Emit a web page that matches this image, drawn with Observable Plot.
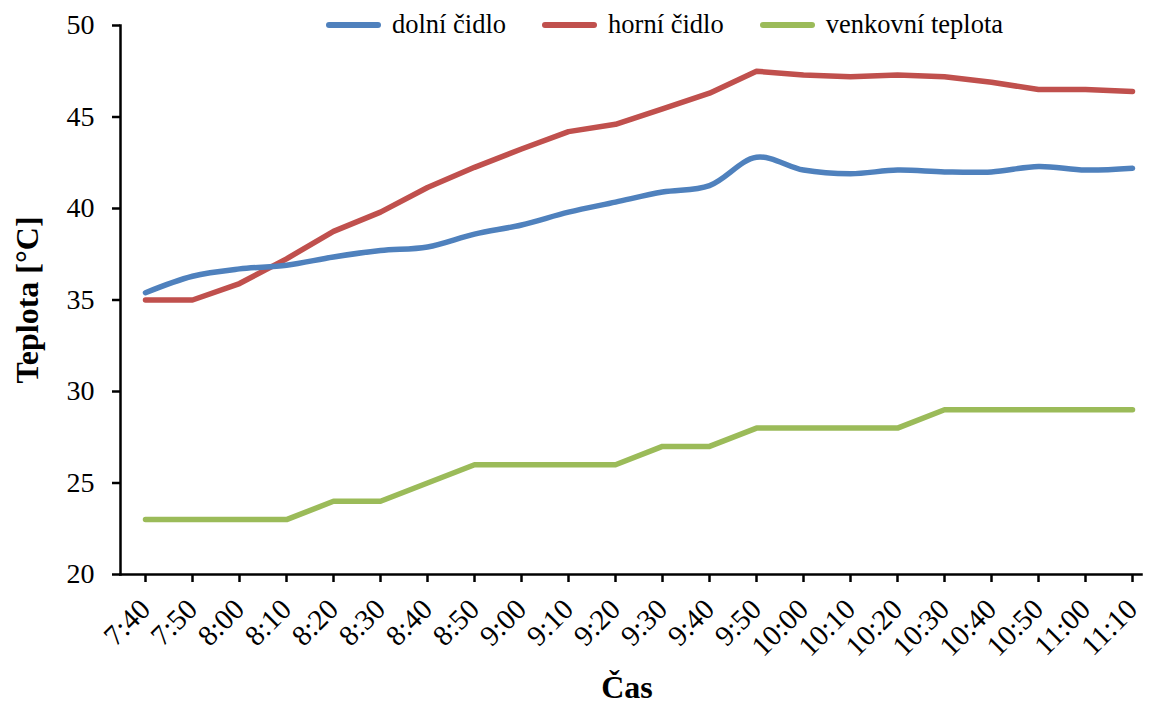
<!DOCTYPE html>
<html>
<head>
<meta charset="utf-8">
<script src="https://cdn.jsdelivr.net/npm/d3@7"></script>
<script src="https://cdn.jsdelivr.net/npm/@observablehq/plot@0.6"></script>
<style>
  html, body { margin: 0; padding: 0; background: #fff; }
  #wrap { position: relative; width: 1150px; height: 706px; font-family: "Liberation Serif", "Times New Roman", serif; }
  #wrap svg text { font-family: "Liberation Serif", "Times New Roman", serif; }
  #legend { position: absolute; left: 326px; top: 9px; display: flex; align-items: center; font-size: 26.5px; color: #000; }
  .item { display: flex; align-items: center; margin-right: 36px; }
  .sw { width: 55px; height: 6px; border-radius: 3px; margin-right: 11px; }
</style>
</head>
<body>
<div id="wrap"><div id="legend"></div></div>
<script>
const times = ["7:40","7:50","8:00","8:10","8:20","8:30","8:40","8:50","9:00","9:10","9:20","9:30","9:40","9:50","10:00","10:10","10:20","10:30","10:40","10:50","11:00","11:10"];
const dolni = [35.4, 36.3, 36.7, 36.9, 37.35, 37.7, 37.9, 38.6, 39.1, 39.8, 40.35, 40.9, 41.25, 42.8, 42.1, 41.9, 42.1, 42.0, 42.0, 42.3, 42.1, 42.2];
const horni = [35.0, 35.0, 35.9, 37.25, 38.75, 39.8, 41.15, 42.25, 43.25, 44.2, 44.6, 45.45, 46.3, 47.5, 47.3, 47.2, 47.3, 47.2, 46.9, 46.5, 46.5, 46.4];
const venkovni = [23, 23, 23, 23, 24, 24, 25, 26, 26, 26, 26, 27, 27, 28, 28, 28, 28, 29, 29, 29, 29, 29];
const seriesNames = ["dolní čidlo", "horní čidlo", "venkovní teplota"];
const colors = ["#4F81BD", "#C0504D", "#9BBB59"];
const yTicks = [20, 25, 30, 35, 40, 45, 50];

const mk = (vals, name) => vals.map((v, i) => ({time: times[i], value: v, series: name}));
const dDolni = mk(dolni, seriesNames[0]);
const dHorni = mk(horni, seriesNames[1]);
const dVenk = mk(venkovni, seriesNames[2]);

const font = "'Liberation Serif', 'Times New Roman', serif";

const chart = Plot.plot({
  width: 1150,
  height: 706,
  marginTop: 25,
  marginBottom: 132,
  marginLeft: 120,
  marginRight: 9,
  insetLeft: 23,
  insetRight: 6.5,
  style: {fontFamily: font, background: "#fff", color: "#000"},
  x: {type: "point", domain: times, padding: 0},
  y: {domain: [20, 50]},
  marks: [
    Plot.line(dVenk, {x: "time", y: "value", stroke: colors[2], strokeWidth: 5.5, strokeLinecap: "round", strokeLinejoin: "round"}),
    Plot.line(dHorni, {x: "time", y: "value", stroke: colors[1], strokeWidth: 5.5, strokeLinecap: "round", strokeLinejoin: "round"}),
    Plot.line(dDolni, {x: "time", y: "value", stroke: colors[0], strokeWidth: 5.5, strokeLinecap: "round", strokeLinejoin: "round", curve: "catmull-rom"}),
    Plot.axisY({ticks: yTicks, tickSize: 8, tickPadding: 18, fontSize: 28, strokeWidth: 2.5, label: null, tickFormat: d => d}),
    Plot.axisX({tickSize: 8, tickPadding: 22, tickRotate: -45, fontSize: 29, strokeWidth: 2.5, label: null}),
    Plot.frame({anchor: "left", stroke: "#000", strokeWidth: 2.5}),
    Plot.frame({anchor: "bottom", stroke: "#000", strokeWidth: 2.5}),
    Plot.text(["Teplota [°C]"], {frameAnchor: "left", rotate: -90, dx: -93, fontSize: 32, fontWeight: "bold", fill: "#000", textAnchor: "middle"}),
    Plot.text(["Čas"], {frameAnchor: "bottom", dy: 123, dx: -4, fontSize: 32, fontWeight: "bold", fill: "#000", textAnchor: "middle"})
  ]
});
document.getElementById("wrap").prepend(chart);

const legend = document.getElementById("legend");
seriesNames.forEach((n, i) => {
  const it = document.createElement("div");
  it.className = "item";
  const sw = document.createElement("div");
  sw.className = "sw";
  sw.style.background = colors[i];
  const t = document.createElement("span");
  t.textContent = n;
  it.appendChild(sw); it.appendChild(t);
  legend.appendChild(it);
});
</script>
</body>
</html>
